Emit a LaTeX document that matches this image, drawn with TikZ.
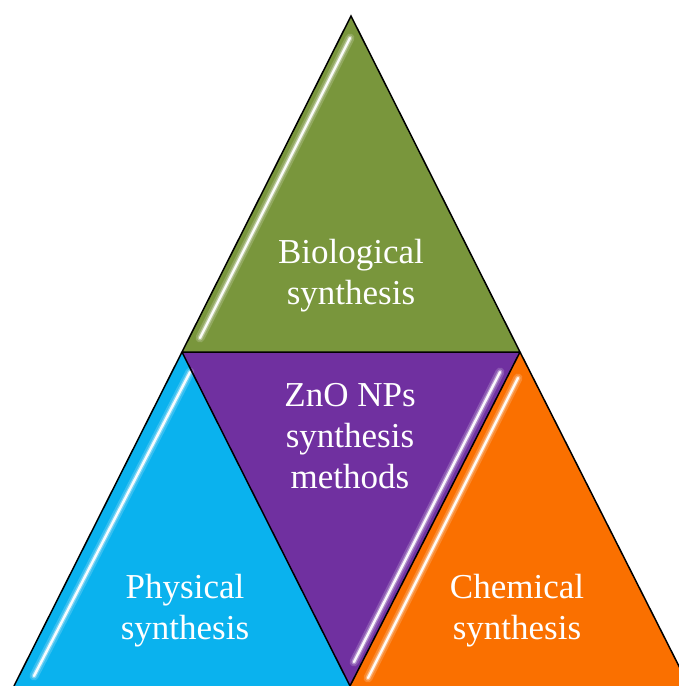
\documentclass[tikz,border=0pt]{standalone}
\usepackage{fontspec}
\setmainfont{Liberation Serif}
\usetikzlibrary{calc}
\definecolor{bioGreen}{RGB}{121,150,60}
\definecolor{physBlue}{RGB}{10,178,238}
\definecolor{znoPurple}{RGB}{112,48,160}
\definecolor{chemOrange}{RGB}{250,112,0}
\tikzset{
  facet/.style={draw=black, line width=1.5pt, line join=miter},
  label/.style={text=white, align=center, font=\fontsize{35}{41}\selectfont, inner sep=0pt},
  glowwide/.style={draw=white, line width=9pt, opacity=0.18, line cap=round},
  glowmid/.style={draw=white, line width=5pt, opacity=0.35, line cap=round},
  glowcore/.style={draw=white, line width=2.4pt, opacity=0.95, line cap=round},
}
\begin{document}
\begin{tikzpicture}[x=1pt, y=-1pt]
\useasboundingbox (0,0) rectangle (679,686);
\clip (0,0) rectangle (679,686);
% corner points of the four triangles
\coordinate (T) at (351,16);
\coordinate (L) at (182,352);
\coordinate (R) at (520,352);
\coordinate (B) at (350,686);
\coordinate (BL) at (14,686);
\coordinate (BR) at (689,686);
% filled facets
\fill[bioGreen] (T) -- (L) -- (R) -- cycle;
\fill[physBlue] (L) -- (BL) -- (B) -- cycle;
\fill[znoPurple] (L) -- (R) -- (B) -- cycle;
\fill[chemOrange] (R) -- (B) -- (BR) -- cycle;
% glossy highlights
\coordinate (g1a) at (350,38);
\coordinate (g1b) at (200,338);
\coordinate (g2a) at (190,372);
\coordinate (g2b) at (34,676);
\coordinate (g3a) at (500,372);
\coordinate (g3b) at (354,662);
\coordinate (g4a) at (518,378);
\coordinate (g4b) at (368,678);
\foreach \a/\b in {g1a/g1b, g2a/g2b, g3a/g3b, g4a/g4b} {
  \draw[glowwide] (\a) -- (\b);
  \draw[glowmid] (\a) -- (\b);
  \draw[glowcore] (\a) -- (\b);
}
% outlines
\draw[facet] (T) -- (L) -- (R) -- cycle;
\draw[facet] (L) -- (BL);
\draw[facet] (L) -- (B) -- (R);
\draw[facet] (R) -- (BR);
% labels
\node[label] (bio) at (351,276) {Biological\\synthesis};
\node[label] (zno) at (350,436) {ZnO NPs\\synthesis\\methods};
\node[label] (phys) at (185,611) {Physical\\synthesis};
\node[label] (chem) at (517,611) {Chemical\\synthesis};
\end{tikzpicture}
\end{document}
